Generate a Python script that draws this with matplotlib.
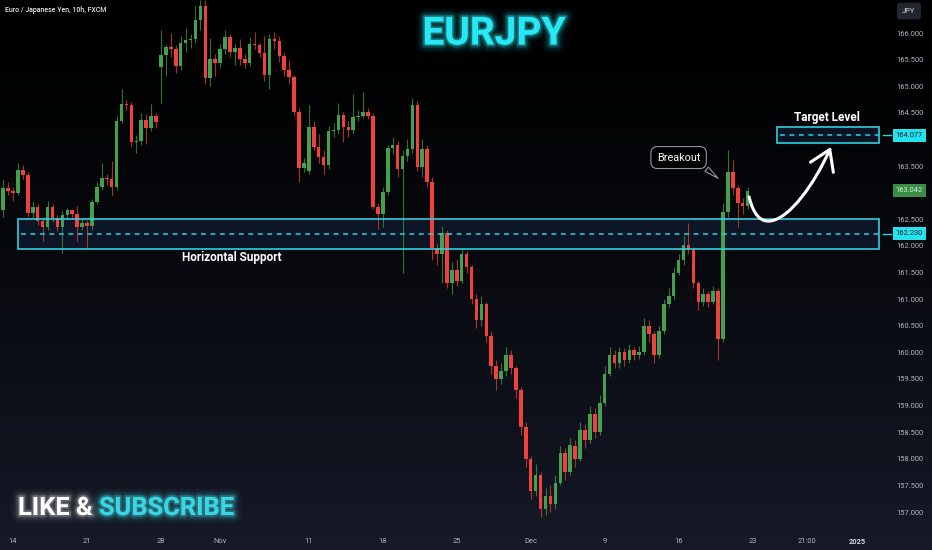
import numpy as np
import matplotlib.pyplot as plt
import matplotlib.patheffects as pe
import matplotlib.transforms as mtransforms
from matplotlib.patches import Rectangle, FancyArrowPatch
from matplotlib.path import Path

plt.rcParams['font.family'] = ['Roboto', 'DejaVu Sans']

# EURJPY 10h candles, Oct 11 -> Dec 20 2024
opens = [162.67, 163.09, 163.03, 163.00, 163.42, 163.33, 162.62, 162.73, 162.47, 162.35,
         162.73, 162.52, 162.35, 162.58, 162.67, 162.60, 162.35, 162.43, 162.37, 162.82,
         163.10, 163.27, 163.25, 163.10, 164.35, 164.67, 164.65, 163.95, 163.97, 164.36,
         164.22, 164.44, 165.36, 165.59, 165.74, 165.70, 165.38, 165.81, 165.87, 165.88,
         166.24, 166.50, 165.15, 165.51, 165.44, 165.70, 165.92, 165.64, 165.72, 165.51,
         165.44, 165.79, 165.77, 165.62, 165.21, 165.89, 165.85, 165.57, 165.30, 165.17,
         164.52, 163.46, 163.40, 164.23, 163.86, 163.67, 163.52, 164.16, 164.18, 164.46,
         164.23, 164.18, 164.42, 164.45, 164.52, 164.44, 162.73, 162.60, 163.01, 163.84,
         163.90, 163.44, 163.69, 163.82, 164.65, 163.48, 163.82, 163.20, 161.96, 161.85,
         162.24, 161.30, 161.55, 161.35, 161.85, 161.60, 161.00, 160.60, 160.90, 160.30,
         159.75, 159.50, 159.65, 159.95, 159.70, 159.30, 158.60, 158.00, 157.40, 157.70,
         157.05, 157.30, 157.15, 157.55, 158.10, 157.75, 158.25, 158.00, 158.55, 158.35,
         158.85, 158.50, 159.05, 159.60, 159.95, 159.80, 160.00, 159.85, 160.05, 159.95,
         160.00, 160.50, 160.35, 159.95, 160.40, 160.90, 161.05, 161.50, 161.73, 162.02,
         161.93, 161.30, 160.95, 161.10, 160.95, 161.15, 160.25, 162.64, 163.39, 163.09,
         162.80, 162.75]
closes = [163.09, 163.03, 163.00, 163.42, 163.33, 162.62, 162.73, 162.47, 162.35, 162.73,
          162.52, 162.35, 162.58, 162.67, 162.60, 162.35, 162.43, 162.37, 162.82, 163.10,
          163.27, 163.25, 163.10, 164.35, 164.67, 164.65, 163.95, 163.97, 164.36, 164.22,
          164.44, 164.33, 165.59, 165.74, 165.70, 165.38, 165.81, 165.87, 165.88, 166.24,
          166.50, 165.15, 165.51, 165.44, 165.70, 165.92, 165.64, 165.72, 165.51, 165.44,
          165.79, 165.77, 165.62, 165.21, 165.89, 165.85, 165.57, 165.30, 165.17, 164.52,
          163.46, 163.56, 164.23, 163.86, 163.67, 163.52, 164.16, 164.18, 164.46, 164.23,
          164.18, 164.42, 164.45, 164.52, 164.44, 162.73, 162.60, 163.01, 163.84, 163.90,
          163.44, 163.69, 163.82, 164.65, 163.48, 163.82, 163.20, 161.96, 161.85, 162.24,
          161.30, 161.55, 161.35, 161.85, 161.60, 161.00, 160.60, 160.90, 160.30, 159.75,
          159.50, 159.65, 159.95, 159.70, 159.30, 158.60, 158.00, 157.40, 157.70, 157.05,
          157.30, 157.15, 157.55, 158.10, 157.75, 158.25, 158.00, 158.55, 158.35, 158.85,
          158.50, 159.05, 159.60, 159.95, 159.80, 160.00, 159.85, 160.05, 159.95, 160.00,
          160.50, 160.35, 159.95, 160.40, 160.90, 161.05, 161.50, 161.73, 162.02, 161.93,
          161.30, 160.95, 161.10, 160.95, 161.15, 160.25, 162.64, 163.39, 163.09, 162.80,
          162.75, 163.04]
highs = [163.25, 163.20, 163.10, 163.55, 163.52, 163.38, 162.85, 162.78, 162.55, 162.85,
         162.78, 162.58, 162.65, 162.72, 162.70, 162.75, 162.50, 162.48, 162.88, 163.20,
         163.55, 163.35, 163.60, 164.45, 164.95, 164.75, 164.70, 164.08, 164.50, 164.48,
         164.66, 164.50, 166.05, 165.80, 166.00, 165.78, 165.95, 166.10, 165.98, 166.50,
         166.62, 166.62, 165.90, 165.60, 165.80, 166.05, 165.98, 165.80, 165.88, 165.60,
         165.92, 166.02, 165.82, 165.95, 165.98, 166.02, 165.95, 165.65, 165.50, 165.22,
         164.60, 163.65, 164.65, 164.35, 164.10, 163.80, 164.25, 164.30, 164.68, 164.52,
         164.35, 164.85, 164.55, 164.90, 164.60, 164.50, 162.80, 163.10, 163.90, 164.05,
         163.98, 163.80, 164.00, 164.78, 164.72, 164.00, 163.90, 163.30, 162.05, 162.38,
         162.30, 161.70, 161.75, 161.95, 161.90, 161.65, 161.10, 161.05, 160.95, 160.40,
         159.85, 159.80, 160.10, 160.05, 159.75, 159.35, 158.70, 158.05, 157.90, 157.75,
         157.45, 157.50, 157.70, 158.25, 158.20, 158.40, 158.35, 158.70, 158.65, 159.00,
         158.95, 159.20, 159.75, 160.10, 160.05, 160.10, 160.08, 160.15, 160.10, 160.12,
         160.65, 160.60, 160.40, 160.50, 161.00, 161.20, 161.60, 161.85, 162.20, 162.43,
         161.98, 161.35, 161.20, 161.15, 161.25, 161.20, 162.80, 163.80, 163.62, 163.15,
         162.90, 163.10]
lows = [162.55, 162.95, 162.85, 162.95, 163.25, 162.55, 162.50, 162.40, 162.10, 162.30,
        162.45, 162.28, 161.87, 162.50, 162.52, 162.10, 162.30, 161.97, 162.30, 162.78,
        163.05, 163.15, 162.95, 163.05, 164.30, 164.55, 163.88, 163.75, 163.90, 163.92,
        164.15, 164.22, 164.68, 165.20, 165.55, 165.25, 165.30, 165.65, 165.72, 165.82,
        166.05, 165.05, 165.00, 165.20, 165.35, 165.60, 165.55, 165.40, 165.40, 165.35,
        165.38, 165.70, 165.55, 165.10, 164.95, 165.70, 165.45, 165.20, 165.05, 164.45,
        163.20, 163.38, 163.35, 163.80, 163.55, 163.35, 163.45, 164.05, 164.10, 163.95,
        164.05, 164.10, 164.35, 164.40, 164.38, 162.70, 162.32, 162.35, 162.95, 163.72,
        163.30, 161.50, 163.60, 163.75, 163.40, 163.30, 163.10, 161.73, 161.65, 161.30,
        161.20, 161.10, 161.25, 161.30, 161.50, 160.90, 160.45, 160.50, 160.20, 159.60,
        159.30, 159.40, 159.55, 159.60, 159.15, 158.45, 157.85, 157.25, 157.30, 156.90,
        156.95, 157.00, 157.05, 157.50, 157.60, 157.70, 157.85, 157.95, 158.20, 158.30,
        158.40, 158.45, 159.00, 159.55, 159.70, 159.70, 159.75, 159.80, 159.85, 159.88,
        159.95, 160.20, 159.80, 159.90, 160.35, 160.85, 161.00, 161.45, 161.65, 161.85,
        161.20, 160.80, 160.88, 160.85, 160.90, 159.85, 160.20, 162.55, 162.95, 162.35,
        162.60, 162.70]

date_ticks = [2, 17, 32, 44, 62, 77, 92, 107, 122, 137, 152, 163, 173.3]
date_labels = ['14', '21', '28', 'Nov', '11', '18', '25', 'Dec', '9', '16', '23', '21:00', '2025']

support_zone = (161.94, 162.50)
support_level = 162.230
target_zone = (163.93, 164.23)
target_level = 164.077
last_price = 163.042

GREEN = '#43a14d'
RED = '#f0413b'
CYAN = '#2fd0db'

fig = plt.figure(figsize=(9.32, 5.5), dpi=100)

# background gradient, black on top to dark navy at the bottom
bg = fig.add_axes([0, 0, 1, 1], zorder=-5)
g = np.linspace(0, 1, 300)[:, None] ** 1.3
bottom_col = np.array([0.085, 0.10, 0.155])
img = g[:, :, None] * bottom_col[None, None, :]
bg.imshow(np.repeat(img, 2, axis=1), aspect='auto', extent=[0, 1, 0, 1])
bg.axis('off')

ax = fig.add_axes([0, 22 / 550, 880 / 932, 528 / 550])
ax.set_facecolor('none')
ax.set_xlim(-0.65, 177.85)
ax.set_ylim(156.70, 166.62)
for s in ax.spines.values():
    s.set_visible(False)

x = np.arange(len(closes))
o = np.array(opens)
c = np.array(closes)
cols = np.where(c >= o, GREEN, RED)
ax.vlines(x, lows, highs, colors=cols, lw=0.8, alpha=0.7, zorder=3)
ax.bar(x, np.maximum(np.abs(c - o), 0.025), bottom=np.minimum(o, c), width=0.72,
       color=cols, linewidth=0, zorder=4)

# zones
for (lo, hi), lvl, x0 in [(support_zone, support_level, 3.0), (target_zone, target_level, 157.0)]:
    ax.add_patch(Rectangle((x0, lo), 177.7 - x0, hi - lo, fc='#12203a', alpha=0.6,
                           ec='none', zorder=2))
    ax.add_patch(Rectangle((x0, lo), 177.7 - x0, hi - lo, fc='none', ec=CYAN,
                           lw=1.2, zorder=5, clip_on=False))
    ax.hlines(lvl, x0 + 0.6, 177.7, colors=CYAN, lw=1.1, linestyles=(0, (3.2, 3.0)), zorder=5)

ax.text(46.4, 161.79, 'Horizontal Support', ha='center', va='center', color='white',
        fontsize=8.5, fontweight='bold', zorder=6)
ax.text(167.1, 164.42, 'Target Level', ha='center', va='center', color='white',
        fontsize=8.5, fontweight='bold', zorder=6)

# breakout callout
ax.annotate('Breakout', xy=(145.0, 163.27), xytext=(137.0, 163.66),
            ha='center', va='center', color='white', fontsize=7.8, zorder=7,
            bbox=dict(boxstyle='round,pad=0.55,rounding_size=0.6', fc='black',
                      ec='#9598a1', lw=0.8),
            arrowprops=dict(arrowstyle='wedge,tail_width=0.5,shrink_factor=0.5',
                            fc='black', ec='#9598a1', lw=0.8, relpos=(0.92, 0.12),
                            shrinkB=0))

# curved projection arrow
verts = [(151.3, 162.92), (152.6, 162.42), (155.7, 162.47),
         (159.5, 162.52), (164.5, 163.15), (167.9, 163.86)]
codes = [Path.MOVETO, Path.CURVE3, Path.CURVE3, Path.CURVE4, Path.CURVE4, Path.CURVE4]
ax.add_patch(FancyArrowPatch(path=Path(verts, codes), arrowstyle='->,head_length=0.7,head_width=0.45',
                             mutation_scale=20, color='white', lw=2.2, zorder=8))

# price axis on the right (labels under the price tags are hidden, as in the app)
ax.yaxis.tick_right()
price_ticks = np.arange(157.0, 166.01, 0.5)
hidden = [163.0, 164.0]
ax.set_yticks(price_ticks, ['' if v in hidden else f'{v:.3f}' for v in price_ticks])
ax.tick_params(axis='y', length=0, pad=12, labelsize=5.4, labelcolor='#b2b5be')
ax.set_xticks(date_ticks, date_labels)
ax.tick_params(axis='x', length=0, pad=7, labelsize=5.4, labelcolor='#b2b5be')
ax.get_xticklabels()[-1].set_fontweight('bold')
ax.get_xticklabels()[-1].set_color('#d1d4dc')

trans = mtransforms.blended_transform_factory(ax.transAxes, ax.transData)
for val, fc, tc in [(target_level, '#22e3ef', '#0b1d2a'), (last_price, '#3b8c44', '#d6f0d6'),
                    (support_level, '#22e3ef', '#0b1d2a')]:
    ax.text(1.0178, val, f'{val:.3f}', transform=trans, ha='left', va='center',
            fontsize=5.4, color=tc, zorder=10, clip_on=False,
            bbox=dict(boxstyle='square,pad=0.42', fc=fc, ec='none'))
for val in [target_level, support_level]:
    ax.plot([1.003, 1.012], [val, val], transform=trans, color=CYAN, lw=1.0, clip_on=False)

fig.text(909 / 932, 1 - 11 / 550, 'JPY', ha='center', va='center', fontsize=5.5,
         color='#d1d4dc', bbox=dict(boxstyle='round,pad=0.7,rounding_size=0.4',
                                    fc='#22262f', ec='none'))
fig.text(5 / 932, 1 - 10 / 550, 'Euro / Japanese Yen, 10h, FXCM', ha='left', va='center',
         fontsize=5, color='#e6e8ee', fontweight='medium')


def glow(color, widths=(12, 8, 5, 2.5), alphas=(0.05, 0.09, 0.15, 0.3)):
    fx = [pe.Stroke(linewidth=w, foreground=color, alpha=a) for w, a in zip(widths, alphas)]
    return fx + [pe.Normal()]


fig.text(494 / 932, 1 - 34 / 550, 'EURJPY', ha='center', va='center', fontsize=28,
         fontweight='bold', color='#27e9f5', path_effects=glow('#27e9f5'))
fig.text(18 / 932, 1 - 508 / 550, 'LIKE &', ha='left', va='center', fontsize=18.3,
         fontweight='bold', color='white', path_effects=glow('white', alphas=(0.03, 0.06, 0.1, 0.2)))
fig.text(99 / 932, 1 - 508 / 550, 'SUBSCRIBE', ha='left', va='center', fontsize=18.3,
         fontweight='bold', color='#3cd6e3', path_effects=glow('#3cd6e3'))

fig.savefig('out.png', dpi=100)
